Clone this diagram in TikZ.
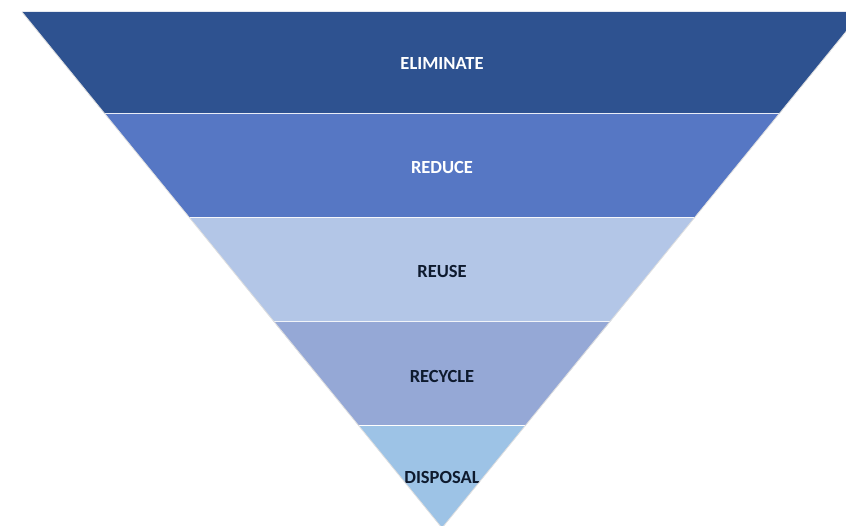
\documentclass[tikz,border=0pt]{standalone}
\usepackage{fontspec}
\setmainfont{Carlito}
\usepackage{xcolor}
\usepackage{tikz}
\usetikzlibrary{positioning}

\definecolor{bandA}{HTML}{2E5290}
\definecolor{bandB}{HTML}{5677C4}
\definecolor{bandC}{HTML}{B3C6E7}
\definecolor{bandD}{HTML}{95A8D6}
\definecolor{bandE}{HTML}{9DC3E6}
\definecolor{darktext}{HTML}{0E1A2E}

\tikzset{
  band/.style={draw=white, line width=1.3pt, line join=miter},
  bandlabel/.style={font=\fontsize{18.5}{20}\selectfont\bfseries, inner sep=1pt},
}

\begin{document}
\begin{tikzpicture}[x=1pt, y=-1pt]
\useasboundingbox (0,0) rectangle (846,526);
\clip (0,0) rectangle (846,526);

% Level 1
\fill[bandA] (22,12) -- (862,12) -- (779,114) -- (105,114) -- cycle;
\draw[band] (105,114) -- (779,114);
\node[bandlabel, text=white] (eliminate) at (442,64) {ELIMINATE};

% Level 2
\fill[bandB] (105,114) -- (779,114) -- (694,218) -- (190,218) -- cycle;
\draw[band] (190,218) -- (694,218);
\node[bandlabel, text=white] (reduce) at (442,168) {REDUCE};

% Level 3
\fill[bandC] (190,218) -- (694,218) -- (610,322) -- (274,322) -- cycle;
\draw[band] (274,322) -- (610,322);
\node[bandlabel, text=darktext] (reuse) at (442,272) {REUSE};

% Level 4
\fill[bandD] (274,322) -- (610,322) -- (525,426) -- (359,426) -- cycle;
\draw[band] (359,426) -- (525,426);
\node[bandlabel, text=darktext] (recycle) at (442,376) {RECYCLE};

% Level 5
\fill[bandE] (359,426) -- (525,426) -- (442,528) -- cycle;
\node[bandlabel, text=darktext] (disposal) at (442,477) {DISPOSAL};

% light rim along the sides
\draw[gray!25, line width=0.8pt] (22,12) -- (442,528) -- (862,12);
\end{tikzpicture}
\end{document}
